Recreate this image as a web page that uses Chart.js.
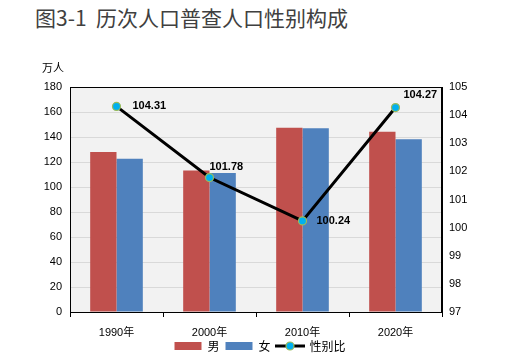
<!DOCTYPE html>
<html><head><meta charset="utf-8">
<script src="https://cdn.jsdelivr.net/npm/chart.js@4/dist/chart.umd.min.js"></script>
<style>
html,body{margin:0;padding:0;background:#fff;}
#wrap{position:relative;width:520px;height:357px;}
#title{position:absolute;left:35px;top:3px;font-family:"Noto Sans CJK SC",sans-serif;font-size:21px;color:#404040;white-space:pre;line-height:28px;}
canvas{position:absolute;left:0;top:0;}
</style></head>
<body>
<div id="wrap">
<div id="title">图3-1  历次人口普查人口性别构成</div>
<canvas id="c" width="520" height="357"></canvas>
</div>
<script>
const categories = ['1990年', '2000年', '2010年', '2020年'];
const male = [128.0, 113.3, 147.4, 144.2];
const female = [122.6, 111.3, 147.0, 138.3];
const sexRatio = [104.31, 101.78, 100.24, 104.27];
const leftTicks = [0, 20, 40, 60, 80, 100, 120, 140, 160, 180];
const rightTicks = [97, 98, 99, 100, 101, 102, 103, 104, 105];

const labelOffsets = [[16, 0], [0, -11], [14, 0], [8, -13]];
const FONT = '"Liberation Sans", "Noto Sans CJK SC", sans-serif';

function lineLegendImage() {
  const cv = document.createElement('canvas');
  cv.width = 30; cv.height = 10;
  const g = cv.getContext('2d');
  g.strokeStyle = '#000'; g.lineWidth = 3;
  g.beginPath(); g.moveTo(0, 5); g.lineTo(30, 5); g.stroke();
  g.beginPath(); g.arc(15, 5, 4, 0, Math.PI * 2);
  g.fillStyle = '#00b0f0'; g.fill();
  g.strokeStyle = '#9bbb59'; g.lineWidth = 1.2; g.stroke();
  return cv;
}
const lineImg = lineLegendImage();

const areaPlugin = {
  id: 'area',
  beforeDraw(chart) {
    const a = chart.chartArea, ctx = chart.ctx;
    ctx.save();
    ctx.fillStyle = '#f2f2f2';
    ctx.fillRect(a.left, a.top, a.right - a.left, a.bottom - a.top);
    ctx.restore();
  },
  beforeDatasetsDraw(chart) {
    const a = chart.chartArea, ctx = chart.ctx;
    ctx.save();
    ctx.strokeStyle = '#000'; ctx.lineWidth = 1;
    ctx.strokeRect(Math.round(a.left) + 0.5, Math.round(a.top) + 0.5, Math.round(a.right - a.left) - 1, Math.round(a.bottom - a.top));
    ctx.fillStyle = '#000';
    ctx.font = '11px "Noto Sans CJK SC", sans-serif';
    ctx.textAlign = 'left'; ctx.textBaseline = 'middle';
    ctx.fillText('万人', 42, 68);
    ctx.restore();
  },
  afterDatasetsDraw(chart) {
    const meta = chart.getDatasetMeta(2), ctx = chart.ctx;
    ctx.save();
    ctx.fillStyle = '#000';
    ctx.font = 'bold 11px ' + FONT;
    ctx.textAlign = 'left'; ctx.textBaseline = 'middle';
    meta.data.forEach((p, i) => {
      const o = labelOffsets[i];
      ctx.fillText(sexRatio[i].toFixed(2), p.x + o[0], p.y + o[1]);
    });
    ctx.restore();
  }
};

new Chart(document.getElementById('c'), {
  data: {
    labels: categories,
    datasets: [
      { type: 'bar', label: '男', data: male, backgroundColor: '#c0504d', yAxisID: 'y', order: 2,
        categoryPercentage: 0.566, barPercentage: 1 },
      { type: 'bar', label: '女', data: female, backgroundColor: '#4f81bd', yAxisID: 'y', order: 2,
        categoryPercentage: 0.566, barPercentage: 1 },
      { type: 'line', label: '性别比', data: sexRatio, yAxisID: 'y1', order: 1,
        borderColor: '#000', borderWidth: 3, tension: 0,
        pointRadius: 4, pointHoverRadius: 4, pointBackgroundColor: '#00b0f0',
        pointBorderColor: '#9bbb59', pointBorderWidth: 1.2 }
    ]
  },
  options: {
    responsive: false,
    animation: false,
    devicePixelRatio: 1,
    layout: { padding: { top: 87, bottom: -5, left: 0, right: 0 } },
    plugins: {
      title: { display: false },
      tooltip: { enabled: false },
      legend: {
        position: 'bottom',
        labels: {
          usePointStyle: true,
          pointStyleWidth: 27,
          boxHeight: 8,
          padding: 6,
          color: '#000',
          font: { family: '"Noto Sans CJK SC", sans-serif', size: 12 },
          generateLabels(chart) {
            return chart.data.datasets.map((ds, i) => ({
              text: ds.label,
              fillStyle: ds.type === 'bar' ? ds.backgroundColor : '#000',
              strokeStyle: ds.type === 'bar' ? ds.backgroundColor : '#000',
              lineWidth: 0,
              pointStyle: ds.type === 'bar' ? 'rect' : lineImg,
              datasetIndex: i,
              hidden: false
            }));
          }
        }
      }
    },
    scales: {
      x: {
        offset: true,
        grid: { offset: true, drawOnChartArea: false, drawTicks: true, tickLength: 5, color: '#000' },
        border: { display: true, color: '#000' },
        ticks: { color: '#000', font: { family: FONT, size: 11 }, padding: 9 },
        afterFit(s) { s.height = 22; s._computeLabelArea = () => undefined; }
      },
      y: {
        position: 'left', min: 0, max: 180,
        afterBuildTicks(s) { s.ticks = leftTicks.map(v => ({ value: v })); },
        grid: { color: '#d9d9d9', drawTicks: false },
        border: { display: true, color: '#000' },
        ticks: { color: '#000', font: { family: FONT, size: 11 }, padding: 8 },
        afterFit(s) { s.width = 70; }
      },
      y1: {
        position: 'right', min: 97, max: 105,
        afterBuildTicks(s) { s.ticks = rightTicks.map(v => ({ value: v })); },
        grid: { drawOnChartArea: false, drawTicks: false },
        border: { display: true, color: '#000' },
        ticks: { color: '#000', font: { family: FONT, size: 11 }, padding: 7 },
        afterFit(s) { s.width = 78; }
      }
    }
  },
  plugins: [areaPlugin]
});
</script>
</body></html>
